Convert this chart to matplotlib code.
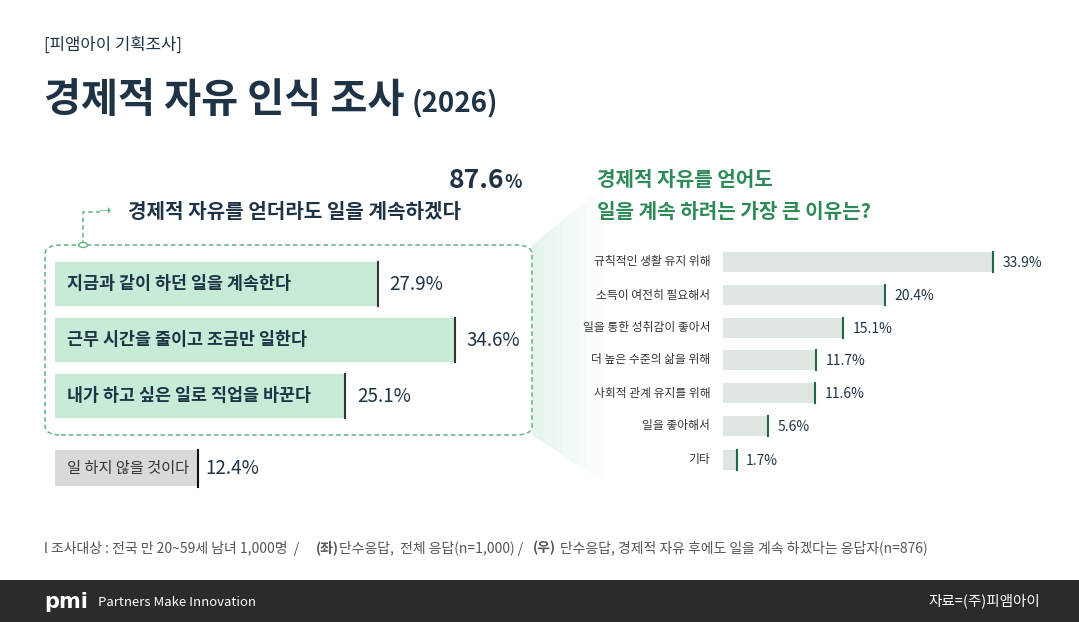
import matplotlib
matplotlib.use("Agg")
import matplotlib.pyplot as plt
from matplotlib.patches import FancyBboxPatch, Polygon, Circle, Rectangle

plt.rcParams['font.family'] = ['Noto Sans CJK KR', 'DejaVu Sans']

left_labels = ["지금과 같이 하던 일을 계속한다", "근무 시간을 줄이고 조금만 일한다", "내가 하고 싶은 일로 직업을 바꾼다"]
left_values = [27.9, 34.6, 25.1]
no_work_label = "일 하지 않을 것이다"
no_work_value = 12.4
continue_total = 87.6

right_labels = ["규칙적인 생활 유지 위해", "소득이 여전히 필요해서", "일을 통한 성취감이 좋아서",
                "더 높은 수준의 삶을 위해", "사회적 관계 유지를 위해", "일을 좋아해서", "기타"]
right_values = [33.9, 20.4, 15.1, 11.7, 11.6, 5.6, 1.7]

W, H = 1079, 622
fig = plt.figure(figsize=(W/100, H/100), dpi=100)
fig.patch.set_facecolor('white')
def T(x, y, s, **kw):
    fig.text(x/W, 1-y/H, s, **kw)

navy = '#1e3446'
green = '#2e8b57'
dark = '#333333'

T(44, 45, "[피앰아이 기획조사]", fontsize=12, color=navy, va='center')
T(44, 100, "경제적 자유 인식 조사", fontsize=29, fontweight='bold', color=navy, va='center')
T(412, 103, "(2026)", fontsize=20, fontweight='bold', color=navy, va='center')

# gradient wedge (faint)
for i in range(12):
    x0 = 532 + i*6
    x1 = x0 + 6
    def yt(x): return 245 - (x-532)*55/68
    def yb(x): return 435 + (x-532)*45/68
    fig.patches.append(Polygon([(x0/W, 1-yt(x0)/H), (x1/W, 1-yt(x1)/H), (x1/W, 1-yb(x1)/H), (x0/W, 1-yb(x0)/H)],
                               closed=True, transform=fig.transFigure, facecolor='#dff3e7', edgecolor='none',
                               alpha=0.8*(1-i/12), zorder=0))
fig.patches.append(FancyBboxPatch((45/W, 1-435/H), 487/W, 190/H, boxstyle="round,pad=0,rounding_size=0.015",
                                  transform=fig.transFigure, facecolor='white', edgecolor='#5fb583',
                                  linestyle=(0, (3, 2)), linewidth=1.1, zorder=1))
fig.lines.append(plt.Line2D([83/W, 83/W, 100/W], [1-245/H, 1-212/H, 1-212/H], transform=fig.transFigure,
                            color='#5fb583', linestyle=(0, (3, 2)), linewidth=1.1))
fig.patches.append(Circle((83/W, 1-245/H), 0.004, transform=fig.transFigure, facecolor='white', edgecolor='#5fb583', zorder=3))
T(98, 211, "➝", fontsize=11, color='#5fb583', va='center', family='DejaVu Sans')
T(504, 180, f"{continue_total}", fontsize=19, fontweight='bold', color=navy, ha='right', va='center')
T(504, 182, "%", fontsize=13, fontweight='bold', color=navy, va='center')
T(128, 212, "경제적 자유를 얻더라도 일을 계속하겠다", fontsize=14.5, fontweight='bold', color=navy, va='center')

axL = fig.add_axes([0, 0, 1, 1], facecolor='none', zorder=5)
axL.set_xlim(-55/11.56, (W-55)/11.56)
axL.set_ylim(H, 0)
axL.axis('off')
ly = [284, 340, 396]
axL.barh(ly, left_values, height=44, left=0, color='#c6ecd8', zorder=2)
axL.barh([468], [no_work_value], height=36, color='#d9d9d9', zorder=2)
for y, v, lab in zip(ly, left_values, left_labels):
    axL.plot([v, v], [y-22, y+22], color=dark, lw=1.5, zorder=3)
    axL.text(1, y, lab, fontsize=12.5, fontweight='bold', color=navy, va='center', zorder=4)
    axL.text(v+1, y, f"{v}%", fontsize=13.5, color=navy, va='center', zorder=4)
axL.plot([no_work_value]*2, [450, 487], color='#111111', lw=1.5)
axL.text(1, 468, no_work_label, fontsize=11, color=dark, va='center')
axL.text(no_work_value+0.6, 468, f"{no_work_value}%", fontsize=13.5, color=navy, va='center')

T(597, 180, "경제적 자유를 얻어도", fontsize=14.5, fontweight='bold', color=green, va='center')
T(597, 212, "일을 계속 하려는 가장 큰 이유는?", fontsize=14.5, fontweight='bold', color=green, va='center')
axR = fig.add_axes([0, 0, 1, 1], facecolor='none', zorder=5)
axR.set_xlim(-723/7.96, (W-723)/7.96)
axR.set_ylim(H, 0)
axR.axis('off')
ry = [262, 295, 328, 360, 393, 426, 460]
axR.barh(ry, right_values, height=20, color='#dfe5e1')
for y, v, lab in zip(ry, right_values, right_labels):
    axR.plot([v, v], [y-10, y+10], color='#1d6b45', lw=1.5)
    axR.text(-1.6, y, lab, fontsize=8.5, color=dark, ha='right', va='center')
    axR.text(v+1.2, y+1, f"{v}%", fontsize=10, color=navy, va='center')

fs = 10
T(44, 548, "l 조사대상 : 전국 만 20~59세 남녀 1,000명  /", fontsize=fs, color='#555555', va='center')
T(316, 548, "(좌)", fontsize=fs, fontweight='bold', color='#555555', va='center')
T(339, 548, "단수응답,  전체 응답(n=1,000) /", fontsize=fs, color='#555555', va='center')
T(533, 548, "(우)", fontsize=fs, fontweight='bold', color='#555555', va='center')
T(560, 548, "단수응답, 경제적 자유 후에도 일을 계속 하겠다는 응답자(n=876)", fontsize=fs, color='#555555', va='center')

fig.patches.append(Rectangle((0, 0), 1, 42/H, transform=fig.transFigure, facecolor='#2b2b2b', edgecolor='none'))
T(44, 602, "pmi", fontsize=15, fontweight='bold', color='white', va='center', family='DejaVu Sans')
T(98, 603, "Partners Make Innovation", fontsize=9.5, color='white', va='center')
T(1040, 601, "자료=(주)피앰아이", fontsize=10.5, color='white', ha='right', va='center')

fig.savefig("out.png", dpi=100)
